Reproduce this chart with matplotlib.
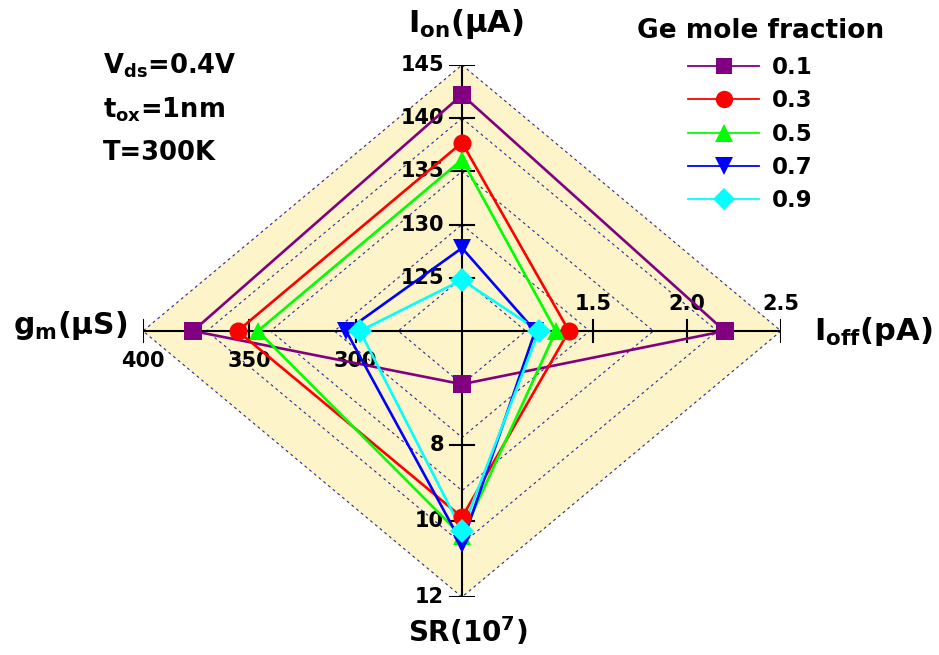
import matplotlib
matplotlib.use('Agg')
import matplotlib.pyplot as plt
from matplotlib.lines import Line2D

plt.rcParams['font.family'] = 'DejaVu Sans'
plt.rcParams['font.weight'] = 'bold'
plt.rcParams['mathtext.fontset'] = 'dejavusans'
plt.rcParams['mathtext.default'] = 'bf'

# data
ge_fraction = ['0.1', '0.3', '0.5', '0.7', '0.9']
ion = [142.2, 137.7, 136.1, 127.8, 124.8]      # uA   (top)
ioff = [2.20, 1.37, 1.30, 1.19, 1.21]          # pA   (right)
sr = [6.4, 9.9, 10.4, 10.6, 10.25]             # 1e7  (bottom)
gm = [376.5, 355.5, 346.0, 304.5, 298.0]       # uS   (left)

ion_range = (120, 145)
ioff_range = (0.8, 2.5)
sr_range = (5, 12)
gm_range = (250, 400)

ion_ticks = [125, 130, 135, 140, 145]
ioff_ticks = [1.5, 2.0, 2.5]
sr_ticks = [8, 10, 12]
gm_ticks = [300, 350, 400]

colors = ['#800080', '#ff0000', '#00ff00', '#0000ff', '#00ffff']
markers = ['s', 'o', '^', 'v', 'D']
msizes = [12.5, 13, 13, 13, 12]

W, H = 939, 655


def frac(v, rng):
    return (v - rng[0]) / (rng[1] - rng[0])


fig = plt.figure(figsize=(W / 100, H / 100), dpi=100)
ax = fig.add_axes([143 / W, 58 / H, 638 / W, 532 / H])
ax.set_xlim(-1, 1)
ax.set_ylim(-1, 1)
ax.axis('off')

px = 1 / 319.0
py = 1 / 266.0

# background diamond + dashed grid
ax.fill([0, 1, 0, -1], [1, 0, -1, 0], color='#fdf4c9', zorder=0)
for f in [0.2, 0.4, 0.6, 0.8, 1.0]:
    ax.plot([0, f, 0, -f, 0], [f, 0, -f, 0, f], ls=(0, (2.5, 3)),
            color='#2a2aa0', lw=0.8, zorder=1)

# the four spokes
ax.plot([-1, 1], [0, 0], color='k', lw=1.5, zorder=2)
ax.plot([0, 0], [-1, 1], color='k', lw=1.5, zorder=2)

tfs = 15
for t in ion_ticks:
    y = frac(t, ion_range)
    ax.plot([-12 * px, 12 * px], [y, y], color='k', lw=1.5, zorder=2)
    ax.text(-18 * px, y, str(t), ha='right', va='center', fontsize=tfs)
for t in ioff_ticks:
    x = frac(t, ioff_range)
    ax.plot([x, x], [-11 * py, 11 * py], color='k', lw=1.5, zorder=2)
    ax.text(x, 17 * py, '%.1f' % t, ha='center', va='bottom', fontsize=tfs)
for t in sr_ticks:
    y = -frac(t, sr_range)
    ax.plot([-12 * px, 12 * px], [y, y], color='k', lw=1.5, zorder=2)
    ax.text(-18 * px, y, str(t), ha='right', va='center', fontsize=tfs)
for t in gm_ticks:
    x = -frac(t, gm_range)
    ax.plot([x, x], [-11 * py, 11 * py], color='k', lw=1.5, zorder=2)
    ax.text(x, -20 * py, str(t), ha='center', va='top', fontsize=tfs)

# series
handles = []
for i in range(len(ge_fraction)):
    xs = [0, frac(ioff[i], ioff_range), 0, -frac(gm[i], gm_range), 0]
    ys = [frac(ion[i], ion_range), 0, -frac(sr[i], sr_range), 0, frac(ion[i], ion_range)]
    ax.plot(xs, ys, color=colors[i], lw=1.9, zorder=3)
    ax.plot(xs[:4], ys[:4], ls='none', marker=markers[i], ms=msizes[i],
            color=colors[i], mew=0, zorder=4, clip_on=False)
    handles.append(Line2D([], [], color=colors[i], lw=1.3, marker=markers[i],
                          ms=msizes[i] - 0.5, mew=0))

fig.text(761 / W, 1 - 31 / H, 'Ge mole fraction', ha='center', va='center', fontsize=19)
fig.legend(handles, ge_fraction, loc='upper left',
           bbox_to_anchor=(688 / W, 1 - 56 / H), frameon=False,
           fontsize=16.5, handlelength=3.1, handletextpad=0.55,
           labelspacing=0.45, borderpad=0, borderaxespad=0)

# axis titles
fig.text(466 / W, 1 - 24 / H, r'I$_{on}$(μA)', ha='center', va='center', fontsize=22)
fig.text(70 / W, 1 - 325 / H, r'g$_{m}$(μS)', ha='center', va='center', fontsize=21.5)
fig.text(873 / W, 1 - 332 / H, r'I$_{off}$(pA)', ha='center', va='center', fontsize=22)
fig.text(468 / W, 1 - 632 / H, r'SR(10$^{7}$)', ha='center', va='center', fontsize=20)

# conditions
fig.text(103 / W, 1 - 73 / H, r'V$_{ds}$=0.4V', ha='left', va='baseline', fontsize=18.5)
fig.text(103 / W, 1 - 117 / H, r't$_{ox}$=1nm', ha='left', va='baseline', fontsize=18.5)
fig.text(103 / W, 1 - 160 / H, 'T=300K', ha='left', va='baseline', fontsize=18.5)

fig.savefig('out.png', dpi=100)
